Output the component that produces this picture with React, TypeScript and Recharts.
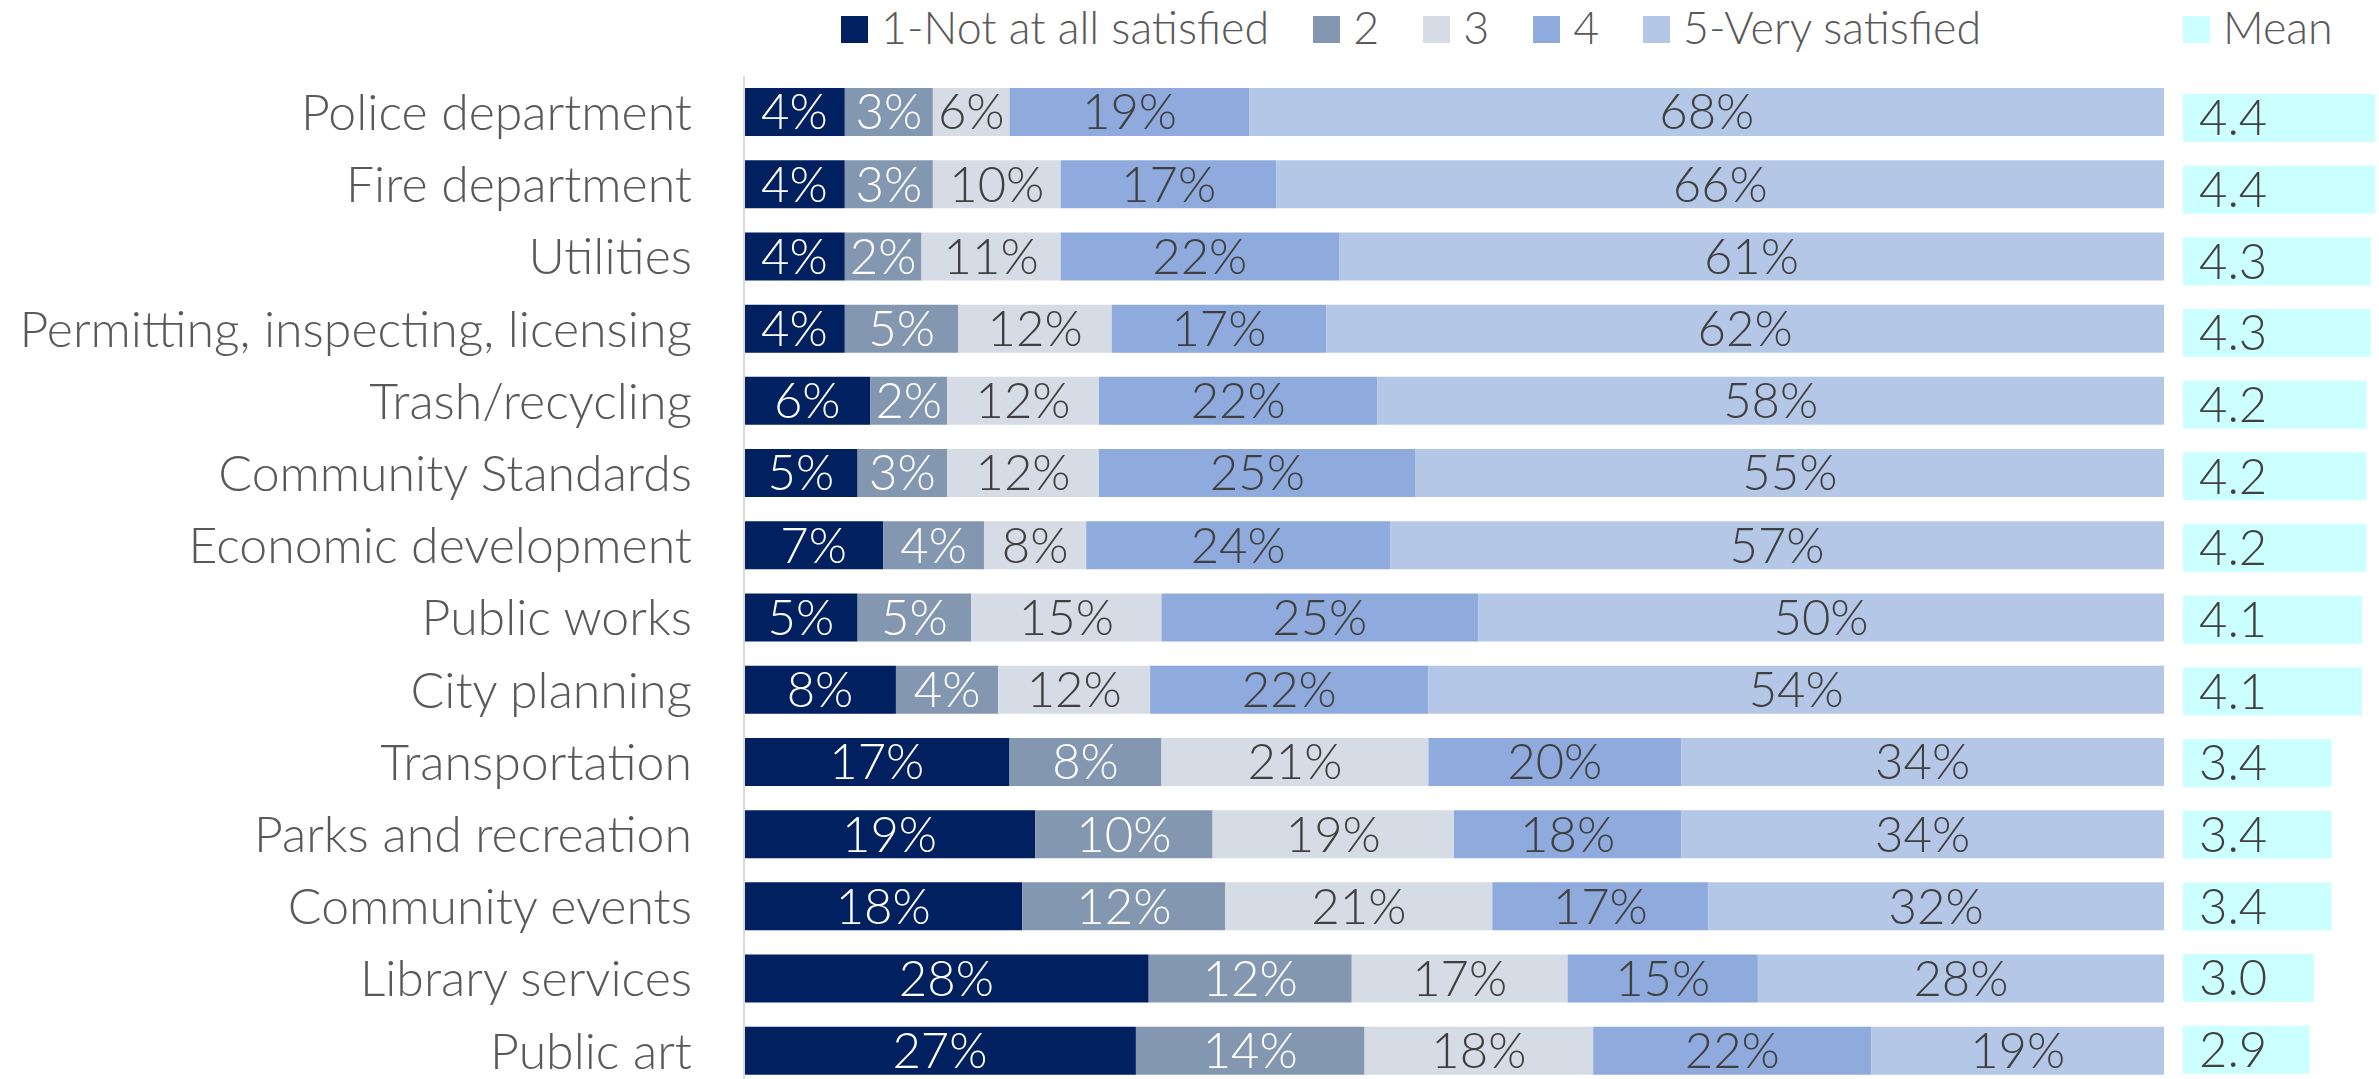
import React from 'react';
import { BarChart, Bar, XAxis, YAxis, LabelList, Legend } from 'recharts';

const FONT = "Lato, 'Open Sans', sans-serif";

const categories = [
  'Police department',
  'Fire department',
  'Utilities',
  'Permitting, inspecting, licensing',
  'Trash/recycling',
  'Community Standards',
  'Economic development',
  'Public works',
  'City planning',
  'Transportation',
  'Parks and recreation',
  'Community events',
  'Library services',
  'Public art',
];

// segment widths (share of bar, %) as drawn in the picture
const notAtAll = [7.1, 7.1, 7.1, 7.1, 8.9, 8.0, 9.8, 8.0, 10.7, 18.7, 20.5, 19.6, 28.5, 27.6];
const two = [6.2, 6.2, 5.4, 8.0, 5.4, 6.3, 7.1, 8.0, 7.2, 10.7, 12.5, 14.3, 14.3, 16.1];
const three = [5.4, 9.0, 9.8, 10.8, 10.7, 10.7, 7.2, 13.4, 10.7, 18.8, 17.0, 18.8, 15.2, 16.1];
const four = [16.9, 15.2, 19.6, 15.1, 19.6, 22.3, 21.4, 22.3, 19.6, 17.8, 16.0, 15.2, 13.4, 19.6];
const very = [64.4, 62.5, 58.1, 59.0, 55.4, 52.7, 54.5, 48.3, 51.8, 34.0, 34.0, 32.1, 28.6, 20.6];

// printed labels
const notAtAllLabels = ['4%', '4%', '4%', '4%', '6%', '5%', '7%', '5%', '8%', '17%', '19%', '18%', '28%', '27%'];
const twoLabels = ['3%', '3%', '2%', '5%', '2%', '3%', '4%', '5%', '4%', '8%', '10%', '12%', '12%', '14%'];
const threeLabels = ['6%', '10%', '11%', '12%', '12%', '12%', '8%', '15%', '12%', '21%', '19%', '21%', '17%', '18%'];
const fourLabels = ['19%', '17%', '22%', '17%', '22%', '25%', '24%', '25%', '22%', '20%', '18%', '17%', '15%', '22%'];
const veryLabels = ['68%', '66%', '61%', '62%', '58%', '55%', '57%', '50%', '54%', '34%', '34%', '32%', '28%', '19%'];

const means = [4.4, 4.4, 4.3, 4.3, 4.2, 4.2, 4.2, 4.1, 4.1, 3.4, 3.4, 3.4, 3.0, 2.9];
const meanLabels = ['4.4', '4.4', '4.3', '4.3', '4.2', '4.2', '4.2', '4.1', '4.1', '3.4', '3.4', '3.4', '3.0', '2.9'];

const seriesNames = ['1-Not at all satisfied', '2', '3', '4', '5-Very satisfied'];
const colors = ['#002060', '#8497B0', '#D6DCE5', '#8FAADC', '#B4C7E7'];
const labelColors = ['#FFFFFF', '#FFFFFF', '#404040', '#404040', '#404040'];
const meanColor = '#CCFFFF';

const data = categories.map((name, i) => ({
  name,
  s1: notAtAll[i],
  s2: two[i],
  s3: three[i],
  s4: four[i],
  s5: very[i],
  t1: notAtAllLabels[i],
  t2: twoLabels[i],
  t3: threeLabels[i],
  t4: fourLabels[i],
  t5: veryLabels[i],
  mean: means[i],
  meanLabel: meanLabels[i],
}));

const TICK_SIZE = 50;
const LABEL_SIZE = 49;
const LEGEND_SIZE = 44.8;

const LegendContent = (props: any) => {
  const payload = props.payload || [];
  return (
    <div
      style={{
        display: 'flex',
        alignItems: 'flex-start',
        fontFamily: FONT,
        fontWeight: 300,
        fontSize: LEGEND_SIZE,
        lineHeight: 'normal',
        color: '#595959',
        whiteSpace: 'nowrap',
      }}
    >
      {payload.map((p: any) => (
        <div key={p.value} style={{ display: 'flex', alignItems: 'flex-start', marginRight: 44 }}>
          <span
            style={{
              display: 'inline-block',
              flex: 'none',
              width: 27,
              height: 27,
              marginTop: 16,
              marginRight: 13,
              background: p.color,
            }}
          />
          <span>{p.value}</span>
        </div>
      ))}
    </div>
  );
};

const labelStyle = { fontFamily: FONT, fontWeight: 300 };

export default function App() {
  const keys = ['s1', 's2', 's3', 's4', 's5'];
  const tkeys = ['t1', 't2', 't3', 't4', 't5'];
  return (
    <div
      style={{
        position: 'absolute',
        left: 0,
        top: 0,
        width: 2379,
        height: 1079,
        overflow: 'hidden',
        background: '#FFFFFF',
      }}
    >
      <div style={{ position: 'absolute', left: 0, top: 0 }}>
        <BarChart
          layout="vertical"
          width={2170}
          height={1088}
          data={data}
          margin={{ top: 76, right: 6, left: 0, bottom: 1 }}
        >
          <XAxis type="number" hide domain={[0, 100]} allowDataOverflow />
          <YAxis
            type="category"
            dataKey="name"
            width={744}
            interval={0}
            axisLine={{ stroke: '#D9D9D9', strokeWidth: 2 }}
            tickLine={false}
            tickSize={0}
            tickMargin={52}
            tick={{ fontSize: TICK_SIZE, fill: '#595959', fontFamily: FONT, fontWeight: 300 }}
          />
          <Legend
            layout="horizontal"
            verticalAlign="middle"
            align="center"
            content={<LegendContent />}
            wrapperStyle={{ top: 0, left: 841, width: 'auto', height: 'auto' }}
          />
          {keys.map((k, i) => (
            <Bar
              key={k}
              dataKey={k}
              name={seriesNames[i]}
              stackId="a"
              fill={colors[i]}
              barSize={48}
              isAnimationActive={false}
            >
              <LabelList
                dataKey={tkeys[i]}
                position="center"
                fill={labelColors[i]}
                fontSize={LABEL_SIZE}
                style={labelStyle}
              />
            </Bar>
          ))}
        </BarChart>
      </div>
      <div style={{ position: 'absolute', left: 2180, top: 0 }}>
        <BarChart
          layout="vertical"
          width={199}
          height={1086}
          data={data}
          margin={{ top: 82, right: 1.5, left: 3, bottom: 0.6 }}
        >
          <XAxis type="number" hide domain={[0, 4.45]} allowDataOverflow />
          <YAxis type="category" dataKey="name" hide />
          <Legend
            layout="horizontal"
            verticalAlign="middle"
            align="center"
            content={<LegendContent />}
            wrapperStyle={{ top: 0, left: 3, width: 'auto', height: 'auto' }}
          />
          <Bar dataKey="mean" name="Mean" fill={meanColor} barSize={48} isAnimationActive={false}>
            <LabelList
              dataKey="meanLabel"
              position="insideLeft"
              offset={16}
              fill="#404040"
              fontSize={LABEL_SIZE}
              style={labelStyle}
            />
          </Bar>
        </BarChart>
      </div>
    </div>
  );
}
